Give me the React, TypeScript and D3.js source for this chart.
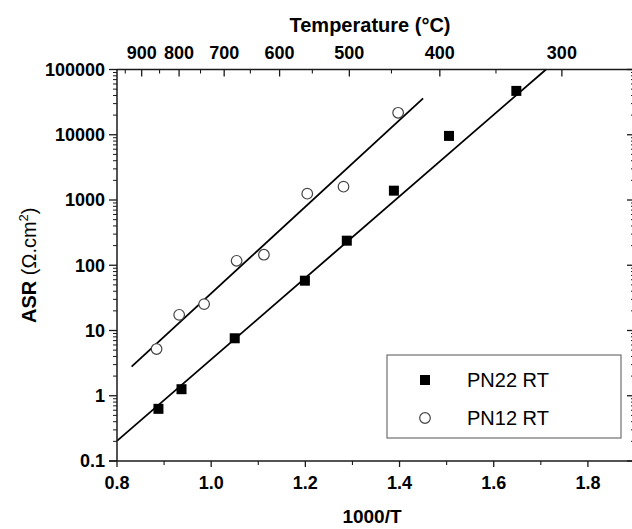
import React from "react";
import * as d3 from "d3";

// ---- data ----
const pn22X = [0.888, 0.937, 1.05, 1.199, 1.288, 1.388, 1.505, 1.648];
const pn22Y = [0.63, 1.26, 7.6, 58, 238, 1390, 9600, 47000];
const pn12X = [0.884, 0.932, 0.985, 1.054, 1.112, 1.204, 1.281, 1.397];
const pn12Y = [5.2, 17.4, 25.4, 117, 145, 1250, 1600, 21700];
const pn22FitX = [0.8, 1.711];
const pn22FitY = [0.203, 100000];
const pn12FitX = [0.831, 1.45];
const pn12FitY = [2.8, 36100];
const xMajor = [0.8, 1.0, 1.2, 1.4, 1.6, 1.8];
const xMinor = [0.9, 1.1, 1.3, 1.5, 1.7];
const yMajor = [0.1, 1, 10, 100, 1000, 10000, 100000];
const tempMajor = [900, 800, 700, 600, 500, 400, 300];
const tempMinor = [950, 850, 750, 650, 550, 450, 350];
const seriesNames = ["PN22 RT", "PN12 RT"];

const FONT = "'Liberation Sans', Arial, Helvetica, sans-serif";

export default function App() {
  const W = 632, H = 529;
  const left = 117, right = 635, top = 69.5, bottom = 461;
  const x = d3.scaleLinear().domain([0.8, 1.9]).range([left, right]);
  const y = d3.scaleLog().domain([0.1, 100000]).range([bottom, top]);
  const tx = (c: number) => x(1000 / (c + 273.15));

  const yMinor: number[] = [];
  for (let k = -1; k < 5; k++) for (let m = 2; m <= 9; m++) yMinor.push(m * Math.pow(10, k));

  const line = d3
    .line<[number, number]>()
    .x((d) => x(d[0]))
    .y((d) => y(d[1]));

  const fit22 = pn22FitX.map((v, i) => [v, pn22FitY[i]] as [number, number]);
  const fit12 = pn12FitX.map((v, i) => [v, pn12FitY[i]] as [number, number]);

  const axisColor = "#1a1a1a";
  const sq = 10;

  return (
    <svg
      width={W}
      height={H}
      style={{ position: "absolute", left: 0, top: 0, background: "#fff" }}
      fontFamily={FONT}
    >
      <rect x={0} y={0} width={W} height={H} fill="#fff" />

      {/* fit lines */}
      <path d={line(fit22) || ""} stroke="#000" strokeWidth={1.8} fill="none" />
      <path d={line(fit12) || ""} stroke="#000" strokeWidth={1.8} fill="none" />

      {/* points */}
      {pn22X.map((v, i) => (
        <rect
          key={"s" + i}
          x={x(v) - sq / 2}
          y={y(pn22Y[i]) - sq / 2}
          width={sq}
          height={sq}
          fill="#000"
        />
      ))}
      {pn12X.map((v, i) => (
        <circle
          key={"c" + i}
          cx={x(v)}
          cy={y(pn12Y[i])}
          r={5.3}
          fill="#fff"
          stroke="#444"
          strokeWidth={1.2}
        />
      ))}

      {/* axes lines */}
      <line x1={left} x2={left} y1={top} y2={bottom} stroke={axisColor} strokeWidth={1.5} />
      <line x1={left - 8} x2={W} y1={bottom} y2={bottom} stroke={axisColor} strokeWidth={1.5} />
      <line x1={left} x2={W} y1={top} y2={top} stroke={axisColor} strokeWidth={1.5} />
      <line x1={right} x2={right} y1={top} y2={bottom} stroke={axisColor} strokeWidth={1.5} />

      {/* left axis ticks */}
      {yMajor.map((v) => (
        <g key={"ym" + v}>
          <line x1={left - 8} x2={left} y1={y(v)} y2={y(v)} stroke={axisColor} strokeWidth={1.3} />
          <line x1={right - 8} x2={right} y1={y(v)} y2={y(v)} stroke={axisColor} strokeWidth={1.3} />
          <text
            x={left - 12}
            y={y(v)}
            dy="0.36em"
            textAnchor="end"
            fontSize={18}
            fontWeight="bold"
          >
            {String(v)}
          </text>
        </g>
      ))}
      {yMinor.map((v) => (
        <g key={"yn" + v}>
          <line x1={left - 4} x2={left} y1={y(v)} y2={y(v)} stroke={axisColor} strokeWidth={1} />
          <line x1={right - 4} x2={right} y1={y(v)} y2={y(v)} stroke={axisColor} strokeWidth={1} />
        </g>
      ))}

      {/* bottom axis ticks */}
      {xMajor.map((v) => (
        <g key={"xm" + v}>
          <line x1={x(v)} x2={x(v)} y1={bottom} y2={bottom + 6} stroke={axisColor} strokeWidth={1.3} />
          <text x={x(v)} y={489} textAnchor="middle" fontSize={18} fontWeight="bold">
            {v.toFixed(1)}
          </text>
        </g>
      ))}
      {xMinor.map((v) => (
        <line key={"xn" + v} x1={x(v)} x2={x(v)} y1={bottom} y2={bottom + 4} stroke={axisColor} strokeWidth={1.1} />
      ))}

      {/* top temperature axis */}
      {tempMajor.map((c) => (
        <g key={"tm" + c}>
          <line x1={tx(c)} x2={tx(c)} y1={top} y2={top + 7} stroke={axisColor} strokeWidth={1.3} />
          <text x={tx(c)} y={58.5} textAnchor="middle" fontSize={18} fontWeight="bold">
            {c}
          </text>
        </g>
      ))}
      {tempMinor.map((c) => (
        <line key={"tn" + c} x1={tx(c)} x2={tx(c)} y1={top} y2={top + 4} stroke={axisColor} strokeWidth={1.1} />
      ))}

      {/* titles */}
      <text x={370} y={32} textAnchor="middle" fontSize={20} fontWeight="bold">
        Temperature (°C)
      </text>
      <text x={372} y={523} textAnchor="middle" fontSize={19} fontWeight="bold">
        1000/T
      </text>
      <text
        transform={`translate(36, ${(top + bottom) / 2}) rotate(-90)`}
        textAnchor="middle"
        fontSize={20}
      >
        <tspan fontWeight="bold">ASR </tspan>
        <tspan>(Ω.cm</tspan>
        <tspan fontSize={13} dy={-8}>2</tspan>
        <tspan dy={8}>)</tspan>
      </text>

      {/* legend */}
      <rect x={387} y={355} width={234} height={83} fill="#fff" stroke="#7a7a7a" strokeWidth={1.3} />
      <rect x={425 - sq / 2} y={380 - sq / 2} width={sq} height={sq} fill="#000" />
      <circle cx={425} cy={418} r={5.3} fill="#fff" stroke="#444" strokeWidth={1.2} />
      <text x={467} y={380} dy="0.36em" fontSize={20}>
        {seriesNames[0]}
      </text>
      <text x={467} y={418} dy="0.36em" fontSize={20}>
        {seriesNames[1]}
      </text>
    </svg>
  );
}
